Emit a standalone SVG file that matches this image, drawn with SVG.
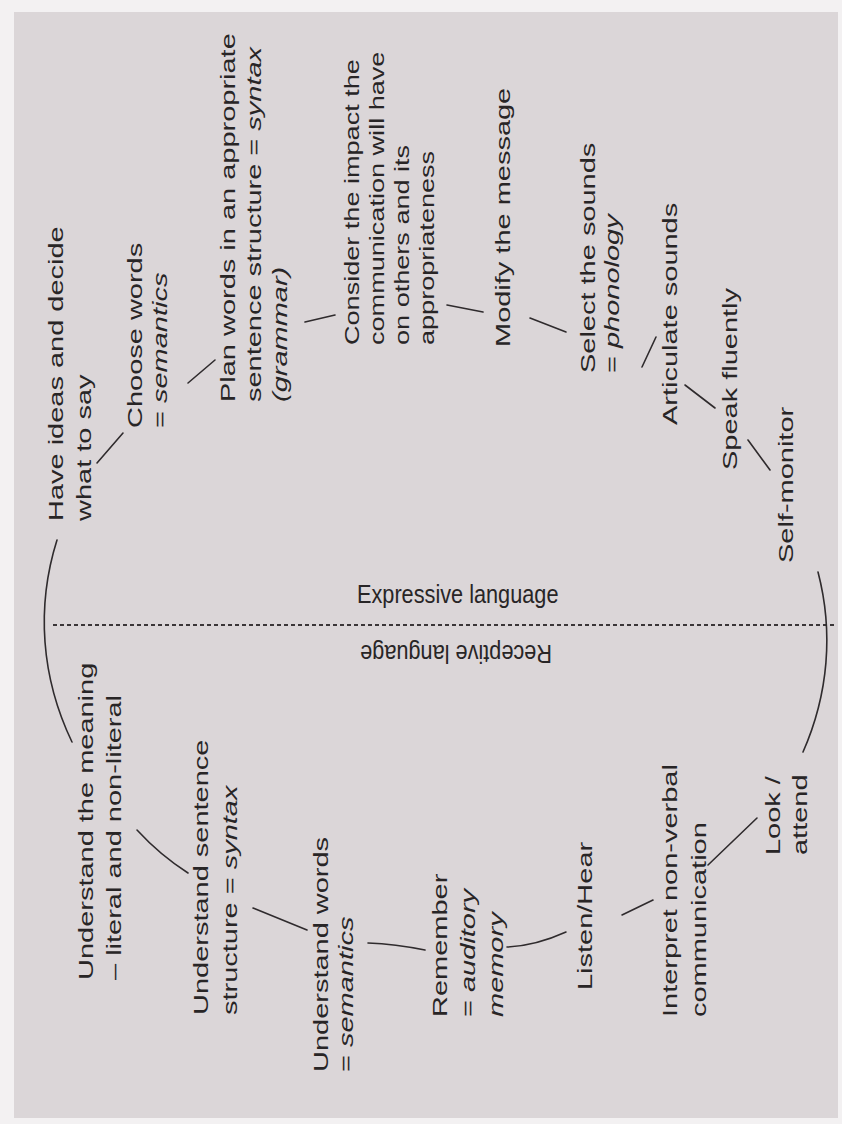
<svg xmlns="http://www.w3.org/2000/svg" width="842" height="1124" viewBox="0 0 842 1124">
<style>
.t{font-family:"Liberation Sans",Arial,sans-serif;font-size:21px;fill:#282526}
.h{font-family:"Liberation Sans",Arial,sans-serif;font-size:21.7px;fill:#282526}
.i{font-style:italic}
.c{fill:none;stroke:#2f2b2d;stroke-width:1.6;stroke-linecap:round}
.d{fill:none;stroke:#3a3537;stroke-width:1.8;stroke-dasharray:4 3}
</style>
<rect x="0" y="0" width="842" height="1124" fill="#f3f1f2"/>
<rect x="14" y="12" width="824" height="1106" fill="#dbd6d8"/>

<g id="divider">
<line class="d" x1="53" y1="625" x2="836" y2="625"/>
<text class="h" transform="translate(357,603) scale(1,1.16)">Expressive language</text>
<text class="h" transform="translate(552,645) rotate(180) scale(1,1.16)">Receptive language</text>
</g>

<g id="connectors">
<path class="c" d="M57,540 A393,325 0 0,0 72,742"/>
<path class="c" d="M818,572 A393,325 0 0,1 803,752"/>
<line class="c" x1="97" y1="463" x2="123" y2="433"/>
<line class="c" x1="188" y1="383" x2="215" y2="360"/>
<line class="c" x1="305" y1="322" x2="335" y2="315"/>
<line class="c" x1="447" y1="305" x2="483" y2="312"/>
<line class="c" x1="530" y1="318" x2="566" y2="332"/>
<line class="c" x1="642" y1="367" x2="656" y2="337"/>
<line class="c" x1="685" y1="385" x2="715" y2="408"/>
<line class="c" x1="748" y1="440" x2="770" y2="470"/>
<line class="c" x1="757" y1="818" x2="708" y2="865"/>
<line class="c" x1="653" y1="900" x2="622" y2="915"/>
<path class="c" d="M507,947 Q535,946 566,932"/>
<path class="c" d="M368,943 Q395,944 425,950"/>
<line class="c" x1="307" y1="930" x2="253" y2="908"/>
<path class="c" d="M137,830 Q160,855 188,873"/>
</g>

<g id="have-ideas"><text class="t" transform="translate(63,521) scale(1,1.38) rotate(-90)"><tspan x="0">Have ideas and decide</tspan><tspan x="0" dy="28">what to say</tspan></text></g>
<g id="choose-words"><text class="t" transform="translate(142,428) scale(1,1.38) rotate(-90)"><tspan x="0">Choose words</tspan><tspan x="0" dy="25">= <tspan class="i">semantics</tspan></tspan></text></g>
<g id="plan-words"><text class="t" transform="translate(235,402) scale(1,1.38) rotate(-90)"><tspan x="0">Plan words in an appropriate</tspan><tspan x="0" dy="26">sentence structure = <tspan class="i">syntax</tspan></tspan><tspan x="0" dy="26" class="i">(grammar)</tspan></text></g>
<g id="consider"><text class="t" transform="translate(359,345) scale(1,1.29) rotate(-90)"><tspan x="0">Consider the impact the</tspan><tspan x="0" dy="25">communication will have</tspan><tspan x="0" dy="25">on others and its</tspan><tspan x="0" dy="25">appropriateness</tspan></text></g>
<g id="modify"><text class="t" transform="translate(510,347) scale(1,1.38) rotate(-90)">Modify the message</text></g>
<g id="select-sounds"><text class="t" transform="translate(595,373) scale(1,1.38) rotate(-90)"><tspan x="0">Select the sounds</tspan><tspan x="0" dy="24">= <tspan class="i">phonology</tspan></tspan></text></g>
<g id="articulate"><text class="t" transform="translate(677,425) scale(1,1.38) rotate(-90)">Articulate sounds</text></g>
<g id="speak"><text class="t" transform="translate(737,470) scale(1,1.38) rotate(-90)">Speak fluently</text></g>
<g id="self-monitor"><text class="t" transform="translate(793,563) scale(1,1.38) rotate(-90)">Self-monitor</text></g>

<g id="understand-meaning"><text class="t" transform="translate(93,980) scale(1,1.38) rotate(-90)"><tspan x="0">Understand the meaning</tspan><tspan x="0" dy="28">– literal and non-literal</tspan></text></g>
<g id="understand-sentence"><text class="t" transform="translate(208,1015) scale(1,1.38) rotate(-90)"><tspan x="0">Understand sentence</tspan><tspan x="0" dy="29">structure = <tspan class="i">syntax</tspan></tspan></text></g>
<g id="understand-words"><text class="t" transform="translate(328,1072) scale(1,1.38) rotate(-90)"><tspan x="0">Understand words</tspan><tspan x="0" dy="25">= <tspan class="i">semantics</tspan></tspan></text></g>
<g id="remember"><text class="t" transform="translate(447,1017) scale(1,1.38) rotate(-90)"><tspan x="0">Remember</tspan><tspan x="0" dy="28">= <tspan class="i">auditory</tspan></tspan><tspan x="0" dy="28" class="i">memory</tspan></text></g>
<g id="listen"><text class="t" transform="translate(592,990) scale(1,1.38) rotate(-90)">Listen/Hear</text></g>
<g id="interpret"><text class="t" transform="translate(677,1017) scale(1,1.38) rotate(-90)"><tspan x="0">Interpret non-verbal</tspan><tspan x="0" dy="29">communication</tspan></text></g>
<g id="look"><text class="t" transform="translate(780,855) scale(1,1.38) rotate(-90)"><tspan x="0">Look /</tspan><tspan x="0" dy="27">attend</tspan></text></g>
</svg>
